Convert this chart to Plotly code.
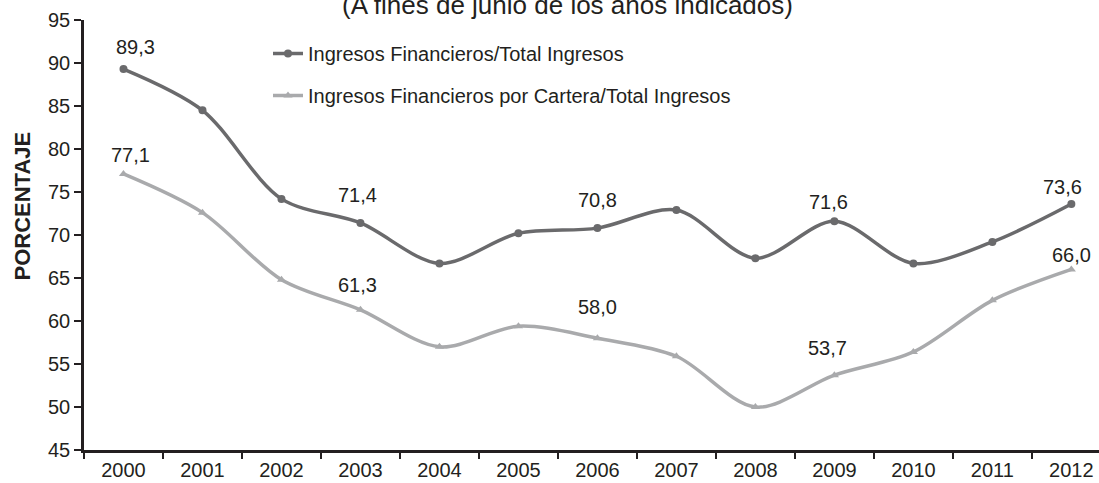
import plotly.graph_objects as go

# ---- data ----
years = ["2000", "2001", "2002", "2003", "2004", "2005", "2006",
         "2007", "2008", "2009", "2010", "2011", "2012"]
ingresos_fin_total = [89.3, 84.5, 74.2, 71.4, 66.7, 70.2, 70.8,
                      72.9, 67.3, 71.6, 66.7, 69.2, 73.6]
ingresos_cartera_total = [77.1, 72.6, 64.8, 61.3, 57.0, 59.4, 58.0,
                          55.9, 50.0, 53.7, 56.4, 62.4, 66.0]
series_names = ["Ingresos Financieros/Total Ingresos",
                "Ingresos Financieros por Cartera/Total Ingresos"]
label_idx = [0, 3, 6, 9, 12]
title_text = "(A fines de junio de los años indicados)"
y_title = "PORCENTAJE"
y_ticks = [45, 50, 55, 60, 65, 70, 75, 80, 85, 90, 95]

# ---- style ----
DARK = "#6a6a6c"
LIGHT = "#a9aaac"
AX = "#231f20"
FONT = "Liberation Sans, Arial, sans-serif"
# label pixel offsets (dx, dy-up) for each labelled point
off_dark = [(12, 22), (-3, 28), (0, 28), (-6, 19), (-9, 17)]
off_light = [(7, 19), (-3, 25), (0, 31), (-7, 27), (0, 14)]

fig = go.Figure()
fig.add_trace(go.Scatter(
    x=years, y=ingresos_fin_total, name=series_names[0],
    mode="lines+markers", legendgroup="a",
    line=dict(color=DARK, width=3.5, shape="spline", smoothing=0.9),
    marker=dict(symbol="circle", size=8, color=DARK)))
fig.add_trace(go.Scatter(
    x=years, y=ingresos_cartera_total, name=series_names[1],
    mode="lines+markers", legendgroup="b",
    line=dict(color=LIGHT, width=3.5, shape="spline", smoothing=0.9),
    marker=dict(symbol="triangle-up", size=8, color=LIGHT)))

def fmt(v):
    return f"{v:.1f}".replace(".", ",")

ann = []
for series, offs in ((ingresos_fin_total, off_dark), (ingresos_cartera_total, off_light)):
    for i, (dx, dy) in zip(label_idx, offs):
        ann.append(dict(x=i, y=series[i], xref="x", yref="y", text=fmt(series[i]),
                        showarrow=False, xshift=dx, yshift=dy,
                        xanchor="center", yanchor="middle",
                        font=dict(size=20, color=AX, family=FONT)))
ann.append(dict(x=(22 - 84) / 1015, y=(450 - 206.5) / 430, xref="paper", yref="paper",
                text=f"<b>{y_title}</b>", textangle=-90, showarrow=False,
                xanchor="center", yanchor="middle",
                font=dict(size=22, color=AX, family=FONT)))
ann.append(dict(x=(567 - 84) / 1015, y=1 + (20 - 5) / 430, xref="paper", yref="paper",
                text=title_text, showarrow=False, xanchor="center", yanchor="middle",
                font=dict(size=26, color=AX, family=FONT)))

fig.update_layout(
    width=1099, height=483,
    margin=dict(l=84, r=0, t=20, b=33),
    paper_bgcolor="white", plot_bgcolor="white",
    font=dict(family=FONT, size=20, color=AX),
    showlegend=True,
    legend=dict(x=(268 - 84) / 1015, y=1 - (34 - 20) / 430, xanchor="left", yanchor="top",
                traceorder="grouped", tracegroupgap=13,
                bgcolor="rgba(0,0,0,0)", font=dict(size=20, color=AX, family=FONT)),
    annotations=ann,
    xaxis=dict(type="category", range=[-0.5, 12.35], showgrid=False,
               showline=True, linecolor=AX, linewidth=2.5,
               ticks="outside", tickson="boundaries", ticklen=6, tickwidth=2,
               tickcolor=AX, tickfont=dict(size=20, color=AX)),
    yaxis=dict(range=[45, 95], tickvals=y_ticks, showgrid=False, zeroline=False,
               showline=True, linecolor=AX, linewidth=2.5,
               ticks="outside", ticklen=7, tickwidth=2, tickcolor=AX,
               tickfont=dict(size=20, color=AX)),
)

fig.write_html("out.html", config={"displayModeBar": False},
               post_script="document.body.style.margin='0';")
